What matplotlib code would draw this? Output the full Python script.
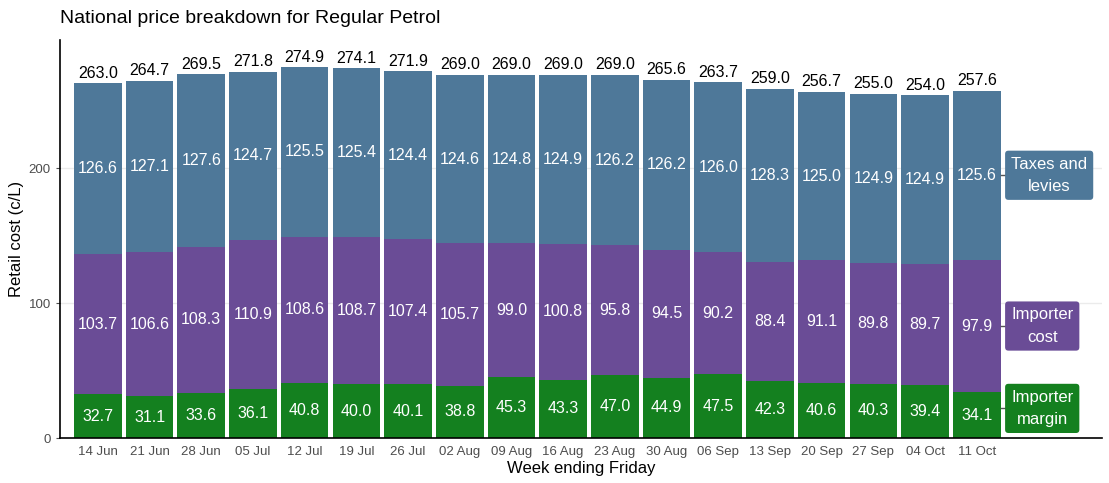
import matplotlib
matplotlib.use("Agg")
import matplotlib.pyplot as plt
import numpy as np

plt.rcParams["font.family"] = ["Liberation Sans", "DejaVu Sans"]

weeks = ["14 Jun", "21 Jun", "28 Jun", "05 Jul", "12 Jul", "19 Jul", "26 Jul", "02 Aug", "09 Aug",
         "16 Aug", "23 Aug", "30 Aug", "06 Sep", "13 Sep", "20 Sep", "27 Sep", "04 Oct", "11 Oct"]
margin = [32.7, 31.1, 33.6, 36.1, 40.8, 40.0, 40.1, 38.8, 45.3, 43.3, 47.0, 44.9, 47.5, 42.3, 40.6, 40.3, 39.4, 34.1]
cost = [103.7, 106.6, 108.3, 110.9, 108.6, 108.7, 107.4, 105.7, 99.0, 100.8, 95.8, 94.5, 90.2, 88.4, 91.1, 89.8, 89.7, 97.9]
taxes = [126.6, 127.1, 127.6, 124.7, 125.5, 125.4, 124.4, 124.6, 124.8, 124.9, 126.2, 126.2, 126.0, 128.3, 125.0, 124.9, 124.9, 125.6]
totals = [263.0, 264.7, 269.5, 271.8, 274.9, 274.1, 271.9, 269.0, 269.0, 269.0, 269.0, 265.6, 263.7, 259.0, 256.7, 255.0, 254.0, 257.6]

series = [("Importer\nmargin", margin, "#14801f"),
          ("Importer\ncost", cost, "#6a4c96"),
          ("Taxes and\nlevies", taxes, "#4e7899")]

fig = plt.figure(figsize=(11.09, 4.83), dpi=100)
ax = fig.add_axes([0.054, 0.093, 0.94, 0.824])

x = np.arange(len(weeks))
bottom = np.zeros(len(weeks))
for name, vals, col in series:
    vals = np.array(vals)
    ax.bar(x, vals, bottom=bottom, width=0.92, color=col, zorder=2)
    mids = bottom + vals / 2
    for xi, m, v in zip(x, mids, vals):
        ax.text(xi, m, f"{v:.1f}", ha="center", va="center", color="white", fontsize=11.5, zorder=3)
    # series label box next to last bar, kept clear of the x axis
    last = x[-1]
    ly = max(mids[-1], 22)
    ax.plot([last + 0.46, last + 0.56], [ly, ly], color="#555555", lw=1, zorder=2)
    ax.text(last + 0.665, ly, name, ha="left", va="center", multialignment="center",
            color="white", fontsize=12, linespacing=1.6, zorder=4,
            bbox=dict(boxstyle="round,pad=0.36,rounding_size=0.2", fc=col, ec="none"))
    bottom = bottom + vals

for xi, t in zip(x, totals):
    ax.text(xi, t + 2, f"{t:.1f}", ha="center", va="bottom", color="black", fontsize=11.5, zorder=3)

ax.set_xlim(-0.735, 19.43)
ax.set_ylim(0, 295)
ax.set_yticks([0, 100, 200])
ax.set_xticks(x)
ax.set_xticklabels(weeks)
ax.tick_params(axis="both", colors="#4d4d4d", labelsize=9.5, length=3)
ax.tick_params(axis="x", length=0, pad=6)
ax.grid(axis="y", color="#ebebeb", lw=1, zorder=0)
ax.set_axisbelow(True)
for s in ["top", "right"]:
    ax.spines[s].set_visible(False)
for s in ["left", "bottom"]:
    ax.spines[s].set_color("black")
    ax.spines[s].set_linewidth(1.2)

ax.set_xlabel("Week ending Friday", fontsize=12, labelpad=2)
ax.set_ylabel("Retail cost (c/L)", fontsize=12, labelpad=3)
fig.text(0.054, 0.962, "National price breakdown for Regular Petrol", fontsize=14, ha="left", va="center")

fig.savefig("out.png", dpi=100)
